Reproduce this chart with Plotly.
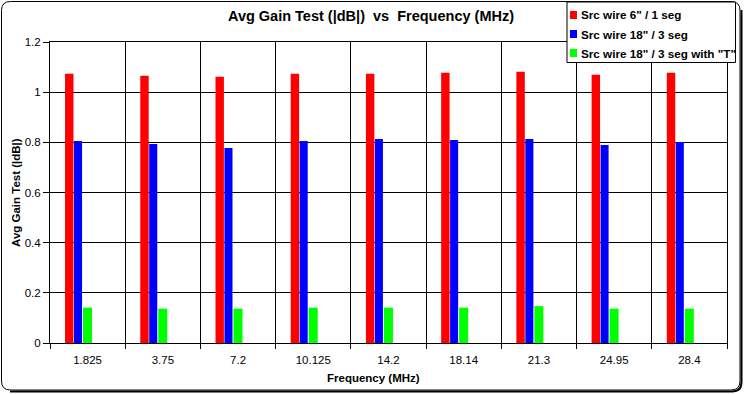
import plotly.graph_objects as go

categories = ["1.825", "3.75", "7.2", "10.125", "14.2", "18.14", "21.3", "24.95", "28.4"]
red_vals = [1.073, 1.065, 1.061, 1.073, 1.073, 1.077, 1.081, 1.069, 1.077]
blue_vals = [0.805, 0.793, 0.777, 0.805, 0.813, 0.809, 0.813, 0.789, 0.801]
green_vals = [0.141, 0.137, 0.137, 0.141, 0.141, 0.141, 0.147, 0.137, 0.137]
series_names = ['Src wire 6" / 1 seg', 'Src wire 18" / 3 seg', 'Src wire 18" / 3 seg with "T"']
series_colors = ["#FF0000", "#0000FF", "#00FF00"]
y_ticks = [0, 0.2, 0.4, 0.6, 0.8, 1.0, 1.2]

W, H = 744, 394
L, R, T, B = 50, 727, 42, 343
FONT = "Arial, Liberation Sans, sans-serif"

def px(x):
    return (x - L) / (R - L)

def py(y):
    return (B - y) / (B - T)

fig = go.Figure()
geo = [(-0.30, 0.112), (-0.181, 0.107), (-0.061, 0.12)]
for name, vals, col, (off, wid) in zip(series_names, [red_vals, blue_vals, green_vals], series_colors, geo):
    fig.add_trace(go.Bar(x=categories, y=vals, name=name, marker_color=col,
                         marker_line_width=0, offset=off, width=wid, showlegend=False))

def rrect(x0, y0, x1, y1, r):
    return (f"M {px(x0+r)},{py(y0)} L {px(x1-r)},{py(y0)} Q {px(x1)},{py(y0)} {px(x1)},{py(y0+r)} "
            f"L {px(x1)},{py(y1-r)} Q {px(x1)},{py(y1)} {px(x1-r)},{py(y1)} "
            f"L {px(x0+r)},{py(y1)} Q {px(x0)},{py(y1)} {px(x0)},{py(y1-r)} "
            f"L {px(x0)},{py(y0+r)} Q {px(x0)},{py(y0)} {px(x0+r)},{py(y0)} Z")

shadow = (f"M {px(741.5)},{py(10)} L {px(741.5)},{py(382)} Q {px(741.5)},{py(391.5)} {px(732)},{py(391.5)} "
          f"L {px(10)},{py(391.5)}")

shapes = [
    dict(type="path", path=rrect(1.5, 1.5, 740, 390, 9), xref="paper", yref="paper",
         line=dict(color="black", width=1), layer="below"),
    dict(type="path", path=shadow, xref="paper", yref="paper",
         line=dict(color="black", width=2), layer="below"),
    # legend box
    dict(type="rect", x0=px(567), x1=px(735.5), y0=py(2), y1=py(62.5), xref="paper", yref="paper",
         line=dict(color="black", width=1), fillcolor="white", layer="above"),
]
annotations = [
    dict(text="<b>Frequency (MHz)</b>", x=px(373), y=py(378), xref="paper", yref="paper",
         showarrow=False, xanchor="center", yanchor="middle", font=dict(size=11.5, family=FONT)),
    dict(text="<b>Avg Gain Test (|dB|)</b>", x=px(16), y=py(193), xref="paper", yref="paper",
         showarrow=False, xanchor="center", yanchor="middle", textangle=-90,
         font=dict(size=11.5, family=FONT)),
]
for i, (name, col) in enumerate(zip(series_names, series_colors)):
    yc = 15 + 19 * i
    shapes.append(dict(type="rect", x0=px(570), x1=px(577), y0=py(yc - 4), y1=py(yc + 4),
                       xref="paper", yref="paper", fillcolor=col, line=dict(width=0), layer="above"))
    annotations.append(dict(text="<b>" + name + "</b>", x=px(579), y=py(yc), xref="paper", yref="paper",
                            showarrow=False, xanchor="left", yanchor="middle",
                            font=dict(size=11.7, family=FONT, color="black")))

fig.update_layout(
    width=W, height=H,
    margin=dict(l=L, r=W - R, t=T, b=H - B, pad=0),
    paper_bgcolor="white", plot_bgcolor="white",
    barmode="overlay",
    showlegend=False,
    font=dict(family=FONT, size=11, color="black"),
    title=dict(text="<b>Avg Gain Test (|dB|)  vs  Frequency (MHz)</b>", x=px(371), xref="paper",
               xanchor="center", y=1 - 16 / H, yanchor="middle",
               font=dict(size=14.5, family=FONT, color="black")),
    xaxis=dict(type="category", tickson="boundaries", showgrid=True, gridcolor="black", gridwidth=1,
               ticks="outside", ticklen=5, tickcolor="black", showline=True, mirror=True,
               linecolor="black", linewidth=1, range=[-0.5, 8.5], ticklabelstandoff=6,
               tickfont=dict(size=11.5, family=FONT, color="black")),
    yaxis=dict(range=[0, 1.2], tickvals=y_ticks, showgrid=True, gridcolor="black", gridwidth=1,
               ticks="outside", ticklen=6, tickcolor="black", showline=True, mirror=True,
               linecolor="black", linewidth=1, zeroline=False,
               tickfont=dict(size=11.5, family=FONT, color="black")),
    annotations=annotations,
    shapes=shapes,
)

fig.write_html("out.html", config={"displayModeBar": False},
               post_script="document.body.style.margin='0';document.body.style.overflow='hidden';")
